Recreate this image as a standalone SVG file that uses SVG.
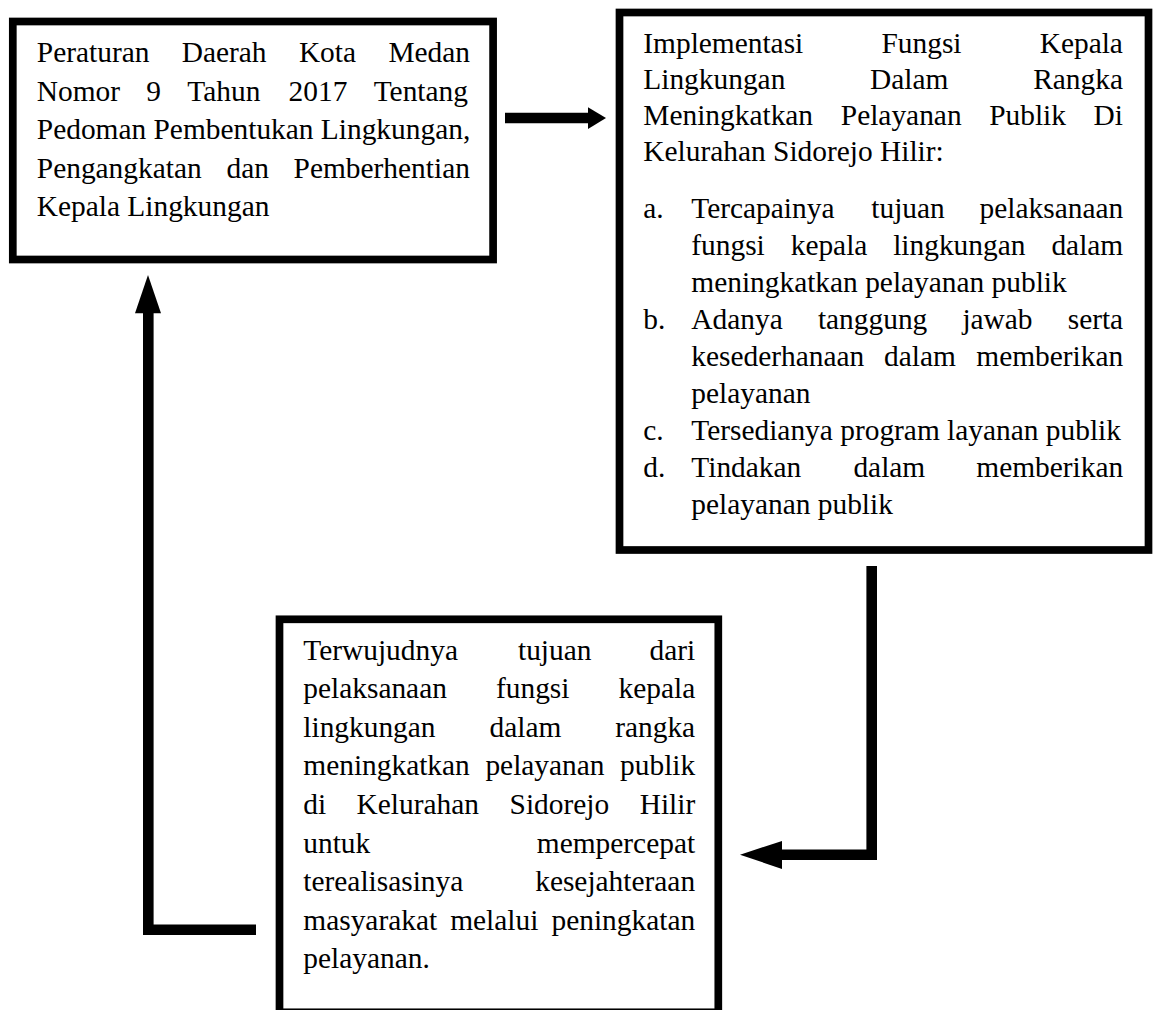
<svg xmlns="http://www.w3.org/2000/svg" width="1153" height="1010" viewBox="0 0 1153 1010">
<style>
.box{fill:#fff;stroke:#000;stroke-width:7.7}
.t{font-family:"Liberation Serif","Times New Roman",serif;font-size:29.4px;fill:#000}
.shaft{fill:none;stroke:#000;stroke-width:10.6;stroke-linejoin:miter;stroke-linecap:butt}
.head{fill:#000}
</style>
<rect width="1153" height="1010" fill="#fff"/>
<g id="connectors">
<path class="shaft" d="M505 118 H589"/>
<polygon class="head" points="588,107.3 606,118 588,129"/>
<path class="shaft" d="M871.7 566 V854.7 H781"/>
<polygon class="head" points="740,854.7 782,841 782,869"/>
<path class="shaft" d="M256 929.7 H148.3 V312"/>
<polygon class="head" points="148,275 161,313.3 135,313.3"/>
</g>
<g id="node-perda">
<rect class="box" x="12.8" y="21.5" width="480.3" height="238"/>
<text class="t" y="62.3"><tspan x="36.8">Peraturan</tspan><tspan x="181.7">Daerah</tspan><tspan x="298.9">Kota</tspan><tspan x="388.4">Medan</tspan></text>
<text class="t" y="100.7"><tspan x="36.8">Nomor</tspan><tspan x="146.3">9</tspan><tspan x="187.3">Tahun</tspan><tspan x="288.6">2017</tspan><tspan x="373.7">Tentang</tspan></text>
<text class="t" x="36.8" y="139.1">Pedoman Pembentukan Lingkungan,</text>
<text class="t" y="177.5"><tspan x="36.8">Pengangkatan</tspan><tspan x="226.5">dan</tspan><tspan x="293.6">Pemberhentian</tspan></text>
<text class="t" x="36.8" y="215.9">Kepala Lingkungan</text>
</g>
<g id="node-implementasi">
<rect class="box" x="619.5" y="12.5" width="529" height="537.5"/>
<text class="t" y="53"><tspan x="643.3">Implementasi</tspan><tspan x="881.5">Fungsi</tspan><tspan x="1039.7">Kepala</tspan></text>
<text class="t" y="89"><tspan x="643.3">Lingkungan</tspan><tspan x="870.1">Dalam</tspan><tspan x="1033.2">Rangka</tspan></text>
<text class="t" y="125"><tspan x="643.3">Meningkatkan</tspan><tspan x="840.8">Pelayanan</tspan><tspan x="989.2">Publik</tspan><tspan x="1093.6">Di</tspan></text>
<text class="t" x="643.3" y="161">Kelurahan Sidorejo Hilir:</text>
<text class="t" x="643.3" y="218">a.</text>
<text class="t" y="218"><tspan x="691.3">Tercapainya</tspan><tspan x="871.3">tujuan</tspan><tspan x="979.6">pelaksanaan</tspan></text>
<text class="t" y="255"><tspan x="691.3">fungsi</tspan><tspan x="790.7">kepala</tspan><tspan x="893.2">lingkungan</tspan><tspan x="1051.4">dalam</tspan></text>
<text class="t" x="691.3" y="292">meningkatkan pelayanan publik</text>
<text class="t" x="643.3" y="329">b.</text>
<text class="t" y="329"><tspan x="691.3">Adanya</tspan><tspan x="817.9">tanggung</tspan><tspan x="962.4">jawab</tspan><tspan x="1067.7">serta</tspan></text>
<text class="t" y="366"><tspan x="691.3">kesederhanaan</tspan><tspan x="884.1">dalam</tspan><tspan x="976.3">memberikan</tspan></text>
<text class="t" x="691.3" y="403">pelayanan</text>
<text class="t" x="643.3" y="440">c.</text>
<text class="t" x="691.3" y="440">Tersedianya program layanan publik</text>
<text class="t" x="643.3" y="477">d.</text>
<text class="t" y="477"><tspan x="691.3">Tindakan</tspan><tspan x="853.4">dalam</tspan><tspan x="976.3">memberikan</tspan></text>
<text class="t" x="691.3" y="514">pelayanan publik</text>
</g>
<g id="node-terwujudnya">
<rect class="box" x="279.5" y="619.3" width="438.8" height="393"/>
<text class="t" y="659.5"><tspan x="303.3">Terwujudnya</tspan><tspan x="518">tujuan</tspan><tspan x="649.5">dari</tspan></text>
<text class="t" y="698.1"><tspan x="303.3">pelaksanaan</tspan><tspan x="496">fungsi</tspan><tspan x="618.5">kepala</tspan></text>
<text class="t" y="736.7"><tspan x="303.3">lingkungan</tspan><tspan x="489.5">dalam</tspan><tspan x="615.2">rangka</tspan></text>
<text class="t" y="775.3"><tspan x="303.3">meningkatkan</tspan><tspan x="485.4">pelayanan</tspan><tspan x="620.1">publik</tspan></text>
<text class="t" y="813.9"><tspan x="303.3">di</tspan><tspan x="356.6">Kelurahan</tspan><tspan x="509.6">Sidorejo</tspan><tspan x="639.7">Hilir</tspan></text>
<text class="t" y="852.5"><tspan x="303.3">untuk</tspan><tspan x="536.8">mempercepat</tspan></text>
<text class="t" y="891.1"><tspan x="303.3">terealisasinya</tspan><tspan x="535.2">kesejahteraan</tspan></text>
<text class="t" y="929.7"><tspan x="303.3">masyarakat</tspan><tspan x="450.2">melalui</tspan><tspan x="551.5">peningkatan</tspan></text>
<text class="t" x="303.3" y="968.3">pelayanan.</text>
</g>
</svg>
